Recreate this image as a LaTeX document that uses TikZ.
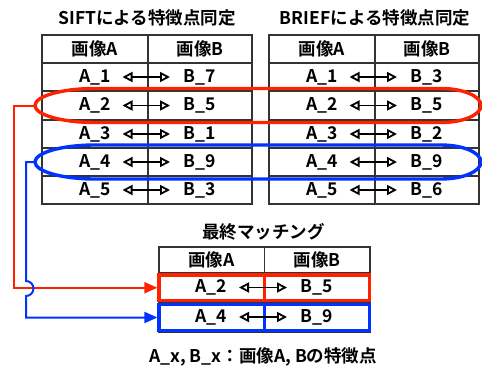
\documentclass[tikz,border=0pt]{standalone}
\usepackage{fontspec}
\setmainfont{Noto Sans CJK JP}[BoldFont={Noto Sans CJK JP Bold}]
\usetikzlibrary{arrows.meta}
\definecolor{myred}{HTML}{FF2200}
\definecolor{myblue}{HTML}{0033FF}
\definecolor{gridc}{HTML}{333333}
\begin{document}
\begin{tikzpicture}[x=1pt,y=-1pt,
 txt/.style={font=\bfseries\fontsize{17.5}{20}\selectfont, inner sep=0pt, text=black},
 gridline/.style={draw=gridc, line width=1.2pt},
 pair/.style={{Triangle[open,length=10pt,width=10pt]}-{Triangle[open,length=10pt,width=10pt]}, line width=1.8pt, shorten <=27.5pt, shorten >=30pt},
 hl/.style={line width=3.2pt},
 link/.style={line width=2pt, -{Triangle[length=13pt,width=11pt]}},
 oval/.style={line width=3.4pt}
]
\useasboundingbox (0,0) rectangle (482,367);
% tables
\draw[gridline] (42,35) rectangle (252,204);
\foreach \y in {63,91,120,148,176} \draw[gridline] (42,\y) -- (252,\y);
\draw[gridline] (148,35) -- (148,204);
\draw[gridline] (269,35) rectangle (479,204);
\foreach \y in {63,91,120,148,176} \draw[gridline] (269,\y) -- (479,\y);
\draw[gridline] (375,35) -- (375,204);
\draw[gridline] (159,247) rectangle (370,332);
\draw[gridline] (159,273) -- (370,273);
\draw[gridline] (159,302) -- (370,302);
\draw[gridline] (264.5,247) -- (264.5,332);
% titles
\node[txt] (t1) at (147,18) {SIFTによる特徴点同定};
\node[txt] (t2) at (375,18) {BRIEFによる特徴点同定};
\node[txt] (t3) at (263.5,232) {最終マッチング};
\node[txt] (fn) at (263,357) {A\_x, B\_x：画像A, Bの特徴点};
% headers
\node[txt] (h1) at (95,49) {画像A};
\node[txt] (h2) at (200,49) {画像B};
\node[txt] (h3) at (322,49) {画像A};
\node[txt] (h4) at (427,49) {画像B};
\node[txt] (h5) at (211.5,260) {画像A};
\node[txt] (h6) at (317,260) {画像B};
% rows
\foreach \i/\y/\b/\c in {1/77/7/3, 2/105.5/5/5, 3/134/1/2, 4/162/9/9, 5/190/3/6} {
  \node[txt] (sa\i) at (95,\y) {A\_\i};
  \node[txt] (sb\i) at (200,\y) {B\_\b};
  \draw[pair] (sa\i.center) -- (sb\i.center);
  \node[txt] (ra\i) at (322,\y) {A\_\i};
  \node[txt] (rb\i) at (427,\y) {B\_\c};
  \draw[pair] (ra\i.center) -- (rb\i.center);
}
% ovals
\coordinate (redL) at (35,105.5);
\coordinate (blueL) at (35,162);
\draw[myred, oval] (redL) arc[start angle=180, end angle=270, x radius=60, y radius=17]
  -- (441,88.5) arc[start angle=270, end angle=450, x radius=40, y radius=17]
  -- (95,122.5) arc[start angle=90, end angle=180, x radius=60, y radius=17] -- cycle;
\draw[myblue, oval] (blueL) arc[start angle=180, end angle=270, x radius=60, y radius=17]
  -- (441,145) arc[start angle=270, end angle=450, x radius=40, y radius=17]
  -- (95,179) arc[start angle=90, end angle=180, x radius=60, y radius=17] -- cycle;
% final table frames
\node[draw=myred, hl, minimum width=210.5pt, minimum height=25.5pt, inner sep=0pt] (fr1) at (264.25,287.75) {};
\node[draw=myblue, hl, minimum width=210.5pt, minimum height=26pt, inner sep=0pt] (fr2) at (264.25,317.5) {};
\draw[myred, hl] (fr1.north) -- (fr1.south);
\draw[myblue, hl] (fr2.north) -- (fr2.south);
\node[txt] (fa2) at (211.5,287.5) {A\_2};
\node[txt] (fb5) at (317,287.5) {B\_5};
\draw[pair] (fa2.center) -- (fb5.center);
\node[txt] (fa4) at (211.5,317) {A\_4};
\node[txt] (fb9) at (317,317) {B\_9};
\draw[pair] (fa4.center) -- (fb9.center);
% connectors
\draw[myred, link] (redL) -- (14,105.5) |- (fr1.west);
\draw[myblue, link] (blueL) -- (26,162) -- (26,281) arc[start angle=-90, end angle=90, radius=7.5] |- (fr2.west);
\end{tikzpicture}
\end{document}
